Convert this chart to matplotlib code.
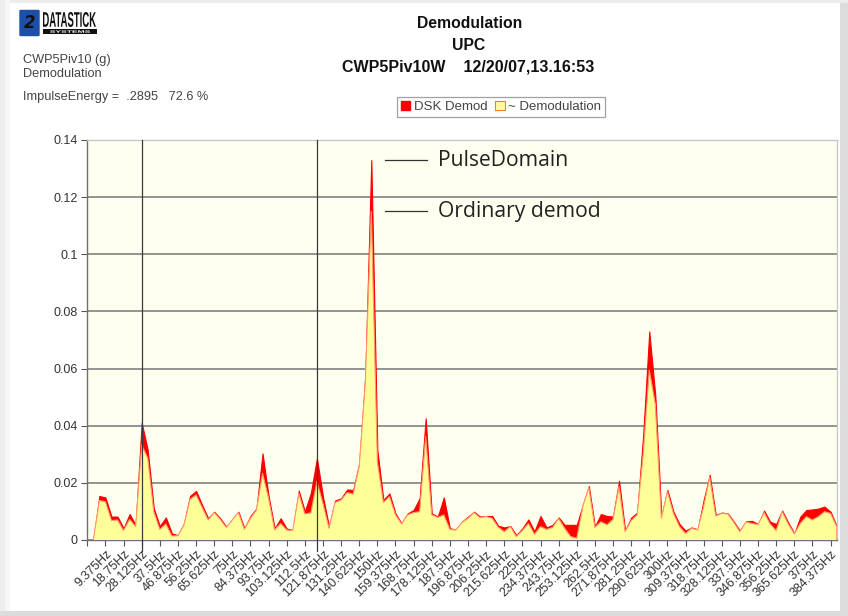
import numpy as np
import matplotlib
matplotlib.use("Agg")
import matplotlib.pyplot as plt
from matplotlib.patches import Patch, Rectangle, FancyBboxPatch, PathPatch
from matplotlib.transforms import blended_transform_factory, Affine2D
from matplotlib.textpath import TextPath
from matplotlib.font_manager import FontProperties

# ---------------- data ----------------
freq_step = 3.125
freqs = np.arange(1, 125) * freq_step   # 3.125 Hz ... 387.5 Hz

dsk_demod = [
    0.0000, 0.0154, 0.0149, 0.0082, 0.0082, 0.0041, 0.0091, 0.0053, 0.0411, 0.0315,
    0.0111, 0.0049, 0.0079, 0.0023, 0.0017, 0.0058, 0.0154, 0.0172, 0.0123, 0.0076,
    0.0099, 0.0076, 0.0047, 0.0072, 0.0099, 0.0041, 0.0084, 0.0111, 0.0303, 0.0154,
    0.0041, 0.0076, 0.0040, 0.0035, 0.0173, 0.0100, 0.0165, 0.0286, 0.0152, 0.0047,
    0.0138, 0.0146, 0.0177, 0.0175, 0.0268, 0.0572, 0.1330, 0.0315, 0.0140, 0.0163,
    0.0093, 0.0058, 0.0093, 0.0105, 0.0146, 0.0426, 0.0093, 0.0082, 0.0149, 0.0041,
    0.0037, 0.0064, 0.0082, 0.0099, 0.0082, 0.0084, 0.0084, 0.0050, 0.0044, 0.0049,
    0.0017, 0.0041, 0.0072, 0.0030, 0.0084, 0.0044, 0.0053, 0.0079, 0.0053, 0.0053,
    0.0053, 0.0123, 0.0189, 0.0047, 0.0091, 0.0084, 0.0082, 0.0207, 0.0033, 0.0078,
    0.0096, 0.0370, 0.0730, 0.0505, 0.0082, 0.0175, 0.0099, 0.0056, 0.0033, 0.0044,
    0.0037, 0.0140, 0.0228, 0.0088, 0.0096, 0.0093, 0.0064, 0.0033, 0.0065, 0.0067,
    0.0056, 0.0103, 0.0064, 0.0056, 0.0103, 0.0061, 0.0023, 0.0082, 0.0105, 0.0107,
    0.0110, 0.0117, 0.0099, 0.0049,
]

demodulation = [
    0.0000, 0.0138, 0.0134, 0.0068, 0.0070, 0.0033, 0.0072, 0.0047, 0.0333, 0.0286,
    0.0099, 0.0037, 0.0056, 0.0014, 0.0015, 0.0053, 0.0142, 0.0158, 0.0114, 0.0070,
    0.0096, 0.0072, 0.0044, 0.0070, 0.0096, 0.0037, 0.0076, 0.0105, 0.0233, 0.0146,
    0.0035, 0.0058, 0.0035, 0.0033, 0.0163, 0.0091, 0.0095, 0.0205, 0.0128, 0.0041,
    0.0131, 0.0140, 0.0166, 0.0161, 0.0257, 0.0548, 0.1150, 0.0274, 0.0131, 0.0152,
    0.0088, 0.0056, 0.0088, 0.0096, 0.0099, 0.0362, 0.0088, 0.0079, 0.0088, 0.0037,
    0.0035, 0.0061, 0.0076, 0.0096, 0.0078, 0.0082, 0.0076, 0.0045, 0.0029, 0.0047,
    0.0012, 0.0033, 0.0058, 0.0020, 0.0047, 0.0037, 0.0044, 0.0075, 0.0041, 0.0012,
    0.0006, 0.0117, 0.0184, 0.0044, 0.0064, 0.0053, 0.0072, 0.0187, 0.0029, 0.0068,
    0.0088, 0.0300, 0.0595, 0.0475, 0.0076, 0.0169, 0.0093, 0.0047, 0.0023, 0.0041,
    0.0035, 0.0117, 0.0219, 0.0084, 0.0093, 0.0091, 0.0061, 0.0029, 0.0063, 0.0058,
    0.0054, 0.0096, 0.0056, 0.0033, 0.0099, 0.0056, 0.0021, 0.0058, 0.0082, 0.0070,
    0.0082, 0.0099, 0.0093, 0.0047,
]

x_tick_values = [i * 9.375 for i in range(42)]
x_tick_labels = ["", "9.375Hz", "18.75Hz", "28.125Hz", "37.5Hz", "46.875Hz", "56.25Hz",
                 "65.625Hz", "75Hz", "84.375Hz", "93.75Hz", "103.125Hz", "112.5Hz",
                 "121.875Hz", "131.25Hz", "140.625Hz", "150Hz", "159.375Hz", "168.75Hz",
                 "178.125Hz", "187.5Hz", "196.875Hz", "206.25Hz", "215.625Hz", "225Hz",
                 "234.375Hz", "243.75Hz", "253.125Hz", "262.5Hz", "271.875Hz", "281.25Hz",
                 "290.625Hz", "300Hz", "309.375Hz", "318.75Hz", "328.125Hz", "337.5Hz",
                 "346.875Hz", "356.25Hz", "365.625Hz", "375Hz", "384.375Hz"]
y_tick_values = [0, 0.02, 0.04, 0.06, 0.08, 0.10, 0.12, 0.14]
y_tick_labels = ["0", "0.02", "0.04", "0.06", "0.08", "0.1", "0.12", "0.14"]
marker_lines_hz = [28.125, 118.75]

# ---------------- figure ----------------
W, H = 848, 616
fig = plt.figure(figsize=(W / 100, H / 100), dpi=100)
fig.patch.set_facecolor("white")

def fx(px):
    return px / W

def fy(py):
    return 1 - py / H

def frect(x0, y0, x1, y1, color, z=0):
    # rectangle given in pixel coords (top-left origin)
    fig.add_artist(Rectangle((fx(x0), fy(y1)), fx(x1) - fx(x0), fy(y0) - fy(y1),
                             transform=fig.transFigure, facecolor=color,
                             edgecolor="none", zorder=z))

# frame strips of the screenshot
frect(840, 0, 848, 616, "#dcdcdc")
frect(0, 611, 848, 616, "#dcdcdc")
frect(0, 0, 848, 3, "#ececec")
frect(0, 0, 5, 611, "#eeeeee")
frect(5, 0, 10, 611, "#f6f6f6")

ax = fig.add_axes([fx(87.3), fy(540), fx(836.6) - fx(87.3), fy(140) - fy(540)])
ax.set_facecolor("#FFFFF0")

ax.fill_between(freqs, dsk_demod, 0, facecolor="#FF0000", edgecolor="#FF0000",
                linewidth=0.8, zorder=2)
ax.fill_between(freqs, demodulation, 0, facecolor="#FFFF99", edgecolor="none", zorder=3)
ax.plot(freqs, demodulation, color="#FF9A6A", linewidth=0.8, zorder=4)

ax.set_xlim(0, 387.5)
ax.set_ylim(0, 0.14)

ax.set_yticks(y_tick_values)
ax.set_yticklabels(y_tick_labels)
ax.set_xticks(x_tick_values)
ax.set_xticklabels(x_tick_labels, rotation=45, ha="right", va="top",
                   rotation_mode="anchor")
ax.tick_params(axis="x", length=4, width=0.8, color="#555555", labelsize=9,
               labelcolor="#333333", pad=2)
ax.tick_params(axis="y", length=4, width=0.8, color="#555555", labelsize=9,
               labelcolor="#333333", pad=3)
for lab in ax.get_xticklabels() + ax.get_yticklabels():
    lab.set_family("Liberation Sans")

ax.grid(axis="y", color="#8a8a8a", linewidth=1.3, zorder=1)
ax.set_axisbelow(True)
ax.spines["left"].set_color("#707070")
ax.spines["bottom"].set_color("#707070")
ax.spines["right"].set_color("#c8c8c8")
ax.spines["top"].set_color("#c8c8c8")
for s in ax.spines.values():
    s.set_linewidth(1.0)

trans = blended_transform_factory(ax.transData, ax.transAxes)
for hz in marker_lines_hz:
    ax.plot([hz, hz], [-0.028, 1], transform=trans, color="#3a3a3a",
            linewidth=0.9, clip_on=False, zorder=5)

# annotations of the two peak levels
ann_x0, ann_x1, ann_tx = 154.0, 175.7, 181.4
for yv, txt in [(max(dsk_demod), "PulseDomain"), (max(demodulation), "Ordinary demod")]:
    ax.plot([ann_x0, ann_x1], [yv, yv], color="#333333", linewidth=0.9, zorder=6)
    ax.text(ann_tx, yv, txt, family="Open Sans", fontsize=15.2, color="#222222",
            va="center", ha="left", zorder=6)

# ---------------- header texts ----------------
title_font = dict(family="Liberation Sans", fontweight="bold", color="#111111",
                  ha="center", va="center")
fig.text(fx(470), fy(23), "Demodulation", fontsize=11.3, **title_font)
fig.text(fx(469), fy(45), "UPC", fontsize=11.3, **title_font)
fig.text(fx(468), fy(67), "CWP5Piv10W    12/20/07,13.16:53", fontsize=11.5, **title_font)

left_font = dict(family="Liberation Sans", color="#444444", ha="left", va="center",
                 fontsize=9.2)
fig.text(fx(23), fy(60), "CWP5Piv10 (g)", **left_font)
fig.text(fx(23), fy(74), "Demodulation", **left_font)
fig.text(fx(23), fy(97), "ImpulseEnergy =  .2895   72.6 %", **left_font)

# logo
fig.add_artist(FancyBboxPatch((fx(21), fy(35)), fx(17), fy(11) - fy(35),
                              boxstyle="round,pad=0.002", transform=fig.transFigure,
                              facecolor="#1c4fa8", edgecolor="none"))
fig.text(fx(29.5), fy(23), "2", family="DejaVu Sans", fontweight="bold", fontsize=12,
         color="#111111", ha="center", va="center", style="italic")

def fitted_text(s, x0, y0, x1, y1, color, weight="bold"):
    tp = TextPath((0, 0), s, size=10,
                  prop=FontProperties(family="Liberation Sans", weight=weight))
    bb = tp.get_extents()
    tr = (Affine2D().translate(-bb.x0, -bb.y0)
          .scale((x1 - x0) / bb.width, (y1 - y0) / bb.height)
          .translate(x0, H - y1).scale(1 / W, 1 / H) + fig.transFigure)
    fig.add_artist(PathPatch(tp, transform=tr, facecolor=color, edgecolor="none"))

fitted_text("DATASTICK", 43, 12, 96, 27, "#111111")
frect(43, 29, 97, 34, "#111111")
fitted_text("SYSTEMS", 50, 30.3, 90, 32.8, "white")

# legend
handles = [Patch(facecolor="#FF0000", edgecolor="#FF0000"),
           Patch(facecolor="#FFFF99", edgecolor="#FF7733", linewidth=0.8)]
leg = fig.legend(handles, ["DSK Demod", "~ Demodulation"], loc="center",
                 bbox_to_anchor=(fx(501), fy(107)), ncol=2, frameon=True,
                 fancybox=False, edgecolor="#8a8a8a",
                 handlelength=0.75, handleheight=0.75, handletextpad=0.25,
                 columnspacing=0.6, borderpad=0.3,
                 prop={"family": "Liberation Sans", "size": 9.5})
leg.get_frame().set_linewidth(0.9)
for t in leg.get_texts():
    t.set_color("#444444")

fig.savefig("out.png", dpi=100, facecolor="white")
